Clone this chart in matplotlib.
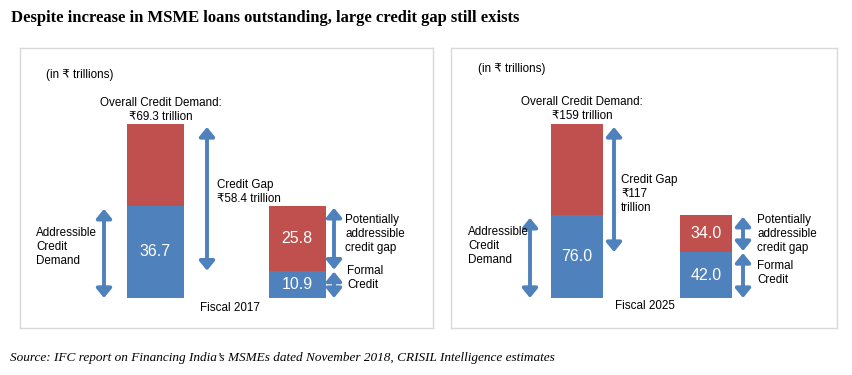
import matplotlib.pyplot as plt

W, H = 852, 375
plt.rcParams['font.family'] = ['Liberation Sans', 'DejaVu Sans']

# data (in Rs trillions)
periods = ['Fiscal 2017', 'Fiscal 2025']
overall = [69.3, 159]
addressable = [36.7, 76.0]
credit_gap = [58.4, 117]
formal = [10.9, 42.0]
potential_gap = [25.8, 34.0]
overall_txt = ['₹69.3 trillion', '₹159 trillion']
gap_txt = ['Credit Gap\n₹58.4 trillion', 'Credit Gap\n₹117\ntrillion']

blue = '#4F81BD'
red = '#C0504D'

# layout in pixels (x from left, y from top)
boxes = [(20, 48, 433, 328), (451, 48, 837, 328)]
bar_x = [(135.5, 277), (125.5, 255)]
bar_w = [57, 52]
arr_x = [(84, 187, 314), (79, 163, 292)]
txt_pos = [
    dict(unit=(46, 75), overall=(161, 110), gap=(217, 192), addr=(36, 247),
         pot=(345, 234), formal=(347, 278), period=(230, 308)),
    dict(unit=(478, 69), overall=(582, 109), gap=(621, 194), addr=(468, 246),
         pot=(757, 234), formal=(757, 273), period=(645, 306)),
]

fig = plt.figure(figsize=(W / 100, H / 100), dpi=100)


def ftext(xy, s, **kw):
    kw.setdefault('fontsize', 8.4)
    kw.setdefault('va', 'center')
    fig.text(xy[0] / W, 1 - xy[1] / H, s, **kw)


def arrow(ax, x, y0, y1):
    ax.annotate('', xy=(x, y1), xytext=(x, y0),
                arrowprops=dict(arrowstyle='<|-|>,head_length=0.55,head_width=0.45',
                                color=blue, lw=2.8, shrinkA=0, shrinkB=0,
                                mutation_scale=10))


for i in range(2):
    x0, y0, x1, y1 = boxes[i]
    ax = fig.add_axes([x0 / W, 1 - y1 / H, (x1 - x0) / W, (y1 - y0) / H])
    scale = 174 / overall[i]          # px per unit
    base = 30                          # px from box bottom to bar baseline
    ax.set_xlim(0, x1 - x0)
    ax.set_ylim(-base / scale, (y1 - y0 - base) / scale)
    for s in ax.spines.values():
        s.set_color('#D9D9D9')
        s.set_linewidth(1)
    ax.set_xticks([])
    ax.set_yticks([])

    b1, b2 = bar_x[i]
    ax.bar(b1, addressable[i], width=bar_w[i], color=blue)
    ax.bar(b1, overall[i] - addressable[i], bottom=addressable[i], width=bar_w[i], color=red)
    ax.bar(b2, formal[i], width=bar_w[i], color=blue)
    ax.bar(b2, potential_gap[i], bottom=formal[i], width=bar_w[i], color=red)

    ax.text(b1, addressable[i] / 2, f'{addressable[i]:.1f}', color='white',
            ha='center', va='center', fontsize=11.5)
    ax.text(b2, formal[i] + potential_gap[i] / 2, f'{potential_gap[i]:.1f}', color='white',
            ha='center', va='center', fontsize=11.5)
    ax.text(b2, formal[i] / 2, f'{formal[i]:.1f}', color='white',
            ha='center', va='center', fontsize=11.5)

    ax_, gx, px = arr_x[i]
    arrow(ax, ax_, 0, addressable[i] - 3 / scale)
    arrow(ax, gx, formal[i], overall[i] - 3 / scale)
    arrow(ax, px, formal[i] + 1 / scale, formal[i] + potential_gap[i] - 2 / scale)
    arrow(ax, px, 0, formal[i] - 1 / scale)

    t = txt_pos[i]
    ftext(t['unit'], '(in ₹ trillions)')
    ftext(t['overall'], 'Overall Credit Demand:\n' + overall_txt[i], ha='center',
          multialignment='center', linespacing=1.2)
    ftext(t['gap'], gap_txt[i], ha='left', linespacing=1.2)
    ftext(t['addr'], 'Addressible\nCredit\nDemand', ha='left', linespacing=1.2)
    ftext(t['pot'], 'Potentially\naddressible\ncredit gap', ha='left', linespacing=1.2)
    ftext(t['formal'], 'Formal\nCredit', ha='left', linespacing=1.2)
    ftext(t['period'], periods[i], ha='center')

ftext((11, 18), 'Despite increase in MSME loans outstanding, large credit gap still exists',
      family='Liberation Serif', weight='bold', fontsize=12)
ftext((10, 358), 'Source: IFC report on Financing India’s MSMEs dated November 2018, CRISIL Intelligence estimates',
      family='Liberation Serif', style='italic', fontsize=9.5)

fig.savefig('out.png', dpi=100, facecolor='white')
